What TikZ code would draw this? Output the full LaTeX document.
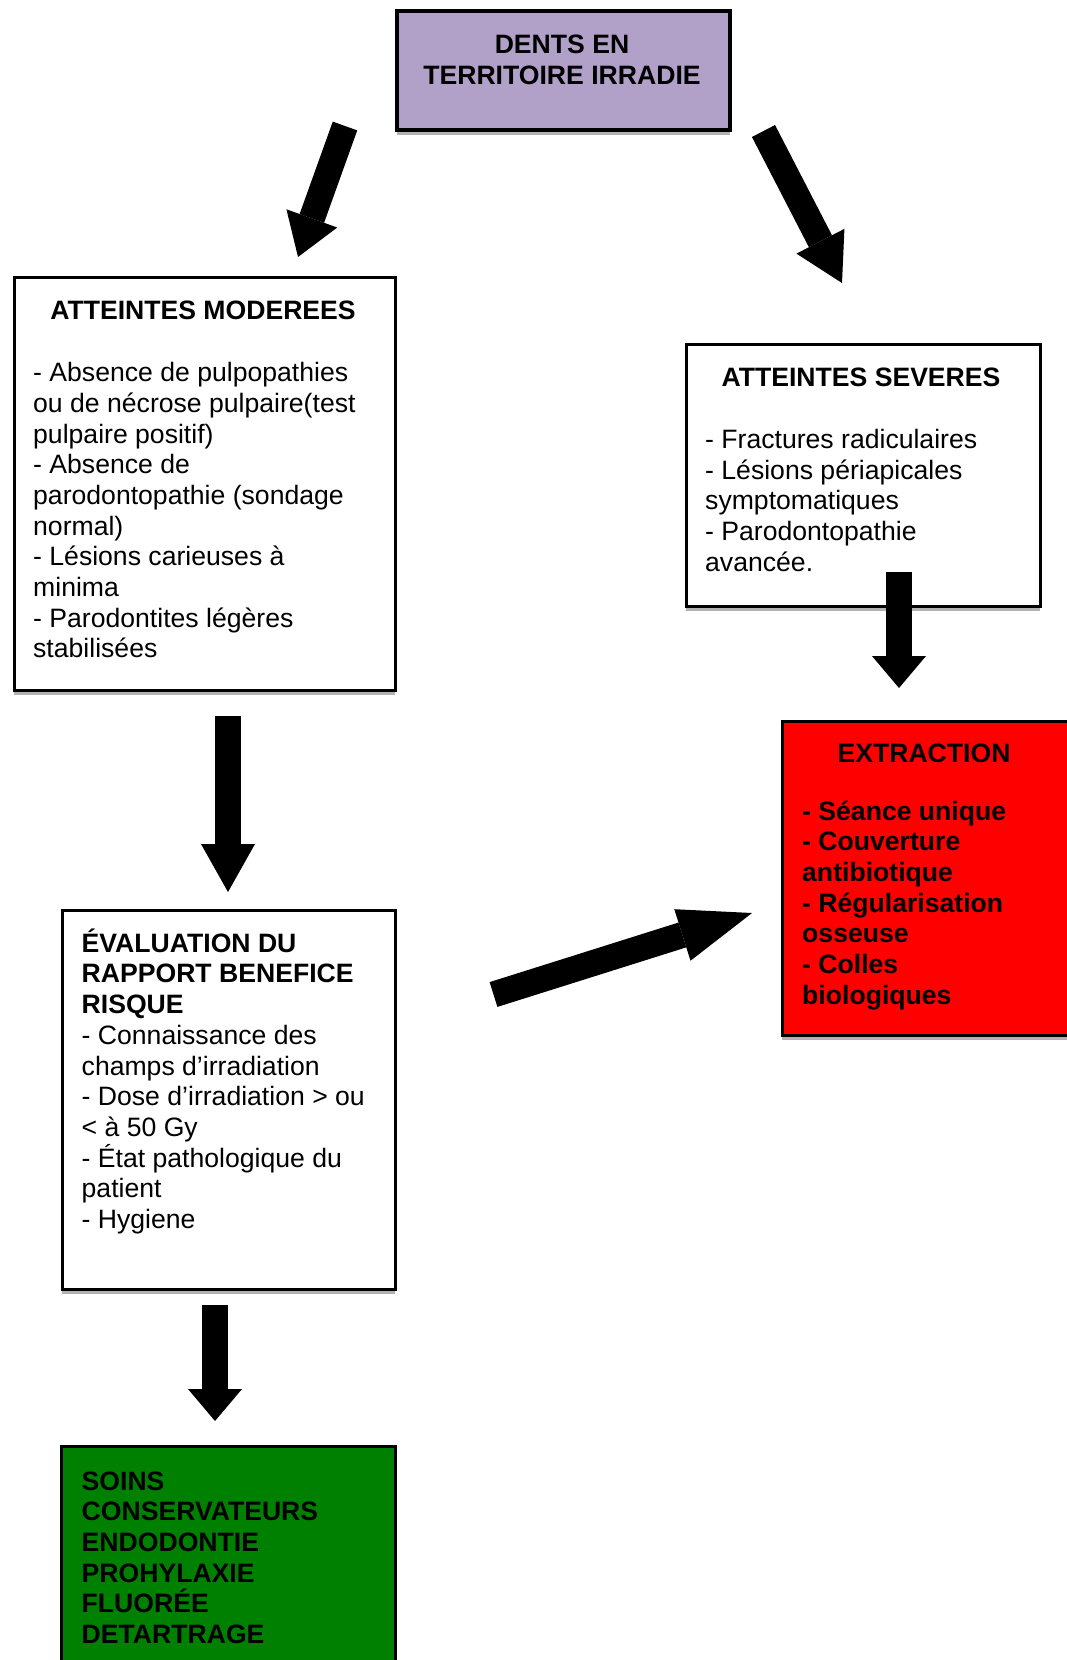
\documentclass[tikz,border=0pt]{standalone}
\usepackage{fontspec}
\setmainfont{Liberation Sans}
\usepackage{tikz}
\usetikzlibrary{arrows.meta,shadows}
\definecolor{lavande}{HTML}{B1A0C7}
\definecolor{rouge}{HTML}{FF0000}
\definecolor{vert}{HTML}{008000}
\tikzset{
  boite/.style={draw=black, line width=3.5pt, inner sep=0pt, anchor=north west,
    drop shadow={shadow xshift=0pt, shadow yshift=-5pt, fill=black!30, opacity=1}},
  titre/.style={inner sep=0pt, anchor=base, align=center, font=\fontsize{26.6}{30.7}\selectfont\bfseries},
  corps/.style={inner sep=0pt, anchor=base west, align=left, font=\fontsize{26.6}{30.7}\selectfont},
  corpsb/.style={corps, font=\fontsize{26.6}{30.7}\selectfont\bfseries},
  fleche/.style={line width=26pt, black, -{Triangle[length=#1, width=54pt, line width=0pt]}},
  fleche/.default=46pt,
}
\begin{document}
\begin{tikzpicture}[x=1pt, y=-1pt]
  \useasboundingbox (0,0) rectangle (1066,1660);
  % boites
  \node[boite, line width=4pt, fill=lavande, minimum width=333pt, minimum height=119pt] (dents) at (395,9) {};
  \node[boite, fill=white, minimum width=381pt, minimum height=413pt] (mod) at (12.5,275.5) {};
  \node[boite, fill=white, minimum width=354pt, minimum height=262pt] (sev) at (684.5,342.5) {};
  \node[boite, fill=rouge, minimum width=289pt, minimum height=314pt] (ext) at (780.5,719.5) {};
  \node[boite, fill=white, minimum width=333pt, minimum height=379pt] (eval) at (60.5,908.5) {};
  \node[boite, fill=vert, minimum width=334pt, minimum height=260pt] (soins) at (59.5,1444.5) {};
  % textes (ancre sur la derniere ligne)
  \node[titre] (tdents) at (562,84.2) {DENTS EN\\TERRITOIRE IRRADIE};
  \node[titre] (tmod) at (203,319) {ATTEINTES MODEREES};
  \node[corps] (cmod) at (33,657.9) {- Absence de pulpopathies\\ou de nécrose pulpaire(test\\pulpaire positif)\\- Absence de\\parodontopathie (sondage\\normal)\\- Lésions carieuses à\\minima\\- Parodontites légères\\stabilisées};
  \node[titre] (tsev) at (861,386) {ATTEINTES SEVERES};
  \node[corps] (csev) at (705,571.1) {- Fractures radiculaires\\- Lésions périapicales\\symptomatiques\\- Parodontopathie\\avancée.};
  \node[titre] (text) at (924,762.7) {EXTRACTION};
  \node[corpsb] (cext) at (802,1004.2) {- Séance unique\\- Couverture\\antibiotique\\- Régularisation\\osseuse\\- Colles\\biologiques};
  \node[corps] (ceval) at (81.5,1228.5) {\textbf{ÉVALUATION DU}\\\textbf{RAPPORT BENEFICE}\\\textbf{RISQUE}\\- Connaissance des\\champs d’irradiation\\- Dose d’irradiation > ou\\< à 50 Gy\\- État pathologique du\\patient\\- Hygiene};
  \node[corpsb] (csoins) at (81.5,1643.5) {SOINS\\CONSERVATEURS\\ENDODONTIE\\PROHYLAXIE\\FLUORÉE\\DETARTRAGE};
  % fleches
  \coordinate (f1a) at (345,126);   \coordinate (f1b) at (298,257);
  \coordinate (f2a) at (763.5,131); \coordinate (f2b) at (842,283);
  \coordinate (f3a) at (899,572);   \coordinate (f3b) at (899,688);
  \coordinate (f4a) at (228,716);   \coordinate (f4b) at (228,892);
  \coordinate (f5a) at (493.5,994.5); \coordinate (f5b) at (752,913);
  \coordinate (f6a) at (215,1305);  \coordinate (f6b) at (215,1421);
  \draw[fleche=41pt] (f1a) -- (f1b);
  \draw[fleche=47pt] (f2a) -- (f2b);
  \draw[fleche=32pt] (f3a) -- (f3b);
  \draw[fleche=48pt] (f4a) -- (f4b);
  \draw[fleche=73pt] (f5a) -- (f5b);
  \draw[fleche=32pt] (f6a) -- (f6b);
\end{tikzpicture}
\end{document}
